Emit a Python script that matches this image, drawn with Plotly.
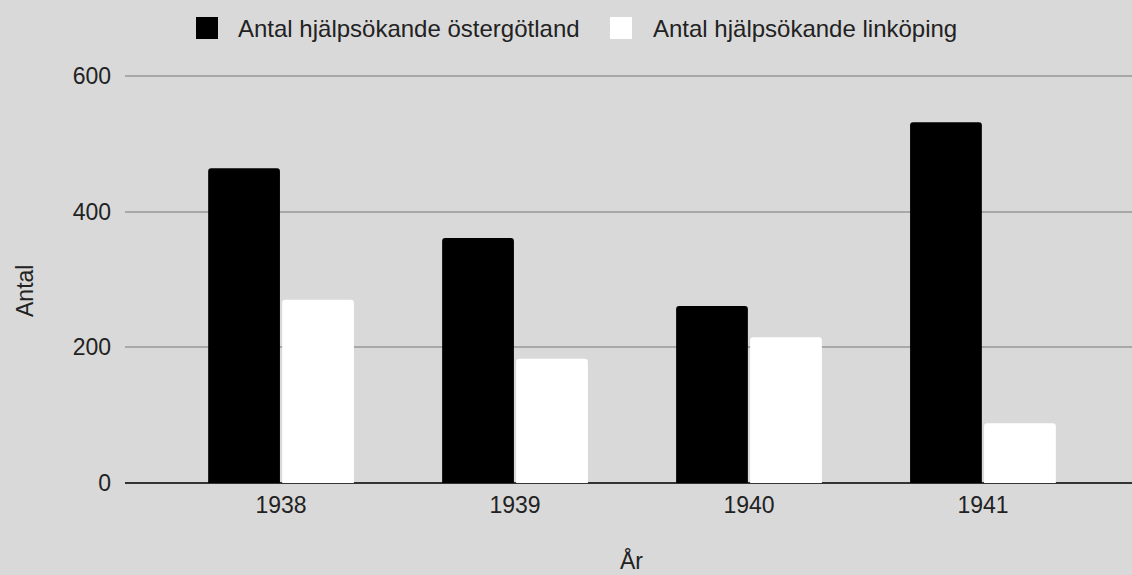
import plotly.graph_objects as go

years = ["1938", "1939", "1940", "1941"]
ostergotland = [464, 361, 261, 532]
linkoping = [270, 183, 215, 88]
y_ticks = [0, 200, 400, 600]
series_names = ["Antal hjälpsökande östergötland", "Antal hjälpsökande linköping"]
series_colors = ["#000000", "#ffffff"]

x_pos = list(range(len(years)))

W, H = 1132, 575
ML, MR, MT, MB = 125, 0, 74, 92
PW, PH = W - ML - MR, H - MT - MB  # plot width/height in px
Y_TOP = 600 * 409 / 407


def px_to_paper_x(px):
    return (px - ML) / PW


def py_to_paper_y(py):
    return (H - MB - py) / PH


fig = go.Figure()
for name, vals, col in zip(series_names, [ostergotland, linkoping], series_colors):
    fig.add_trace(go.Bar(x=x_pos, y=vals, name=name, showlegend=False,
                         marker=dict(color=col, line=dict(width=0))))

font_family = "Liberation Sans, Arial, sans-serif"
text_color = "#222222"

# custom legend (squares + labels)
legend_items = [(196, 236), (610, 651)]
shapes = []
annotations = []
for (sq_x, tx_x), name, col in zip(legend_items, series_names, series_colors):
    shapes.append(dict(type="rect", xref="paper", yref="paper",
                       x0=px_to_paper_x(sq_x), x1=px_to_paper_x(sq_x + 22),
                       y0=py_to_paper_y(39), y1=py_to_paper_y(17),
                       fillcolor=col, line=dict(width=0), layer="above"))
    annotations.append(dict(text=name, xref="paper", yref="paper",
                            x=px_to_paper_x(tx_x), y=py_to_paper_y(28),
                            xanchor="left", yanchor="middle", showarrow=False,
                            font=dict(size=24, color=text_color, family=font_family)))

# axis titles
annotations.append(dict(text="Antal", xref="paper", yref="paper",
                        x=px_to_paper_x(25), y=py_to_paper_y(291), textangle=-90,
                        xanchor="center", yanchor="middle", showarrow=False,
                        font=dict(size=23, color=text_color, family=font_family)))
annotations.append(dict(text="År", xref="paper", yref="paper",
                        x=px_to_paper_x(631), y=py_to_paper_y(560),
                        xanchor="center", yanchor="middle", showarrow=False,
                        font=dict(size=23, color=text_color, family=font_family)))

fig.update_layout(
    width=W, height=H,
    paper_bgcolor="#d9d9d9", plot_bgcolor="#d9d9d9",
    margin=dict(l=ML, r=MR, t=MT, b=MB, autoexpand=False),
    barmode="group", bargap=0.3675, bargroupgap=0.03,
    barcornerradius=3,
    showlegend=False,
    font=dict(family=font_family, size=23, color=text_color),
    shapes=shapes,
    annotations=annotations,
    xaxis=dict(tickmode="array", tickvals=x_pos, ticktext=years,
               range=[-0.667, 3.637], showgrid=False, zeroline=False,
               showline=False, ticks="", tickfont=dict(size=23, color=text_color),
               ticklabelstandoff=6),
    yaxis=dict(range=[0, Y_TOP], tickvals=y_ticks, showgrid=True, gridcolor="#a8a8a8",
               gridwidth=1.5, zeroline=True, zerolinecolor="#333333", zerolinewidth=1.5,
               ticks="", tickfont=dict(size=23, color=text_color), ticklabelstandoff=13),
)

fig.write_html("out.html", config={"displayModeBar": False},
               post_script="document.body.style.margin='0';document.body.style.overflow='hidden';")
